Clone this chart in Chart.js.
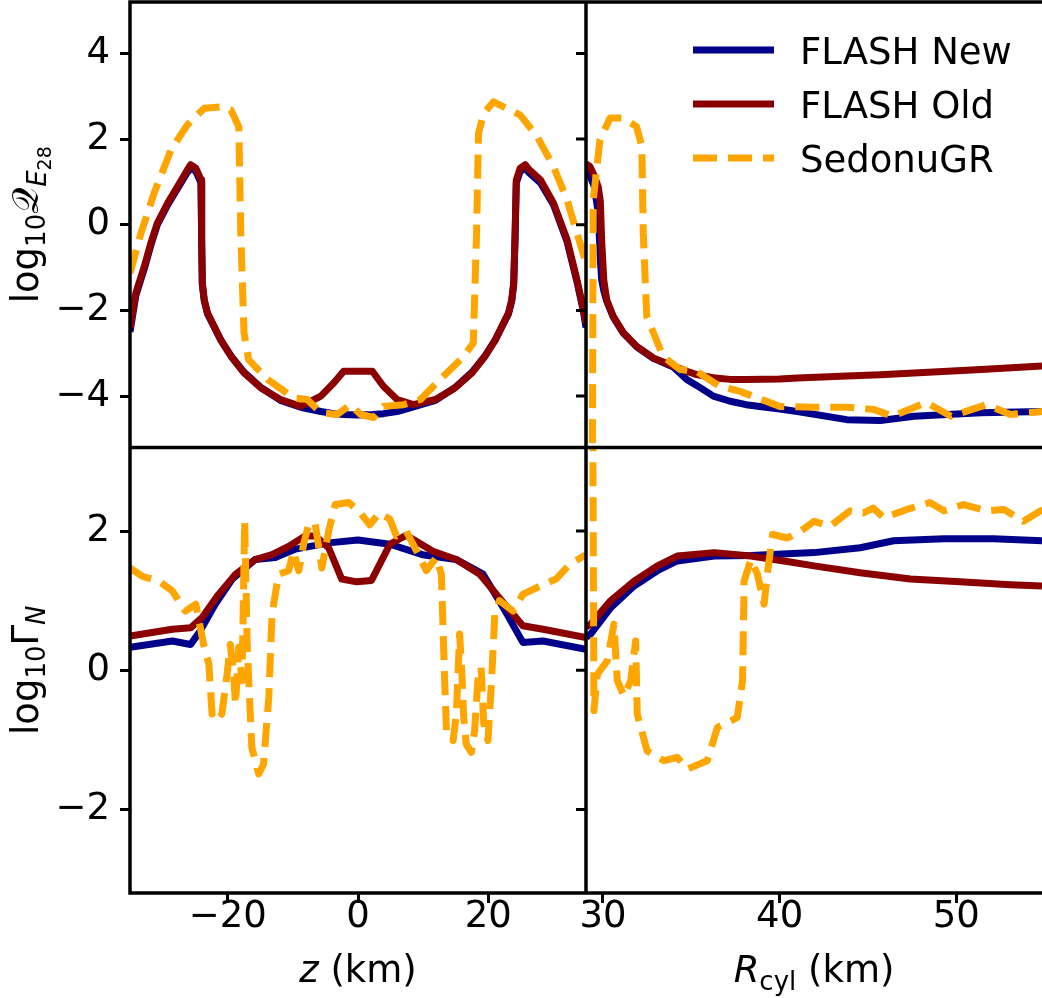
<!DOCTYPE html>
<html>
<head>
<meta charset="utf-8">
<title>FLASH vs SedonuGR</title>
<script src="https://cdn.jsdelivr.net/npm/chart.js@4.4.1/dist/chart.umd.min.js"></script>
<style>
  html, body { margin: 0; padding: 0; background: #fff; overflow: hidden; }
  #wrap { position: relative; width: 1042px; height: 998px; }
</style>
</head>
<body>
<div id="wrap"><canvas id="myChart" width="1042" height="998"></canvas></div>
<script>
// ---- data: top row, log10 Q_E28 ----
const zFlashQ = [-35, -34.1, -32.8, -31.8, -30.8, -29.2, -27.7, -26.2, -25.7, -24.9, -24.1, -24.0, -23.9, -23.6, -23.1, -22.1, -21.1, -19.5, -17.5, -14.9, -11.9, -8.8, -5.7, -3.7, -2.2, 0, 2.2, 3.9, 6, 8.5, 11.9, 14.9, 17.5, 19.5, 21.1, 22.1, 23.1, 23.6, 23.9, 24.1, 24.3, 24.9, 25.7, 26.2, 28, 30, 32.1, 33.6, 34.6, 35];
const qNewZ = [-2.5, -1.65, -1.02, -0.48, 0.0, 0.47, 0.85, 1.22, 1.32, 1.25, 0.98, -0.4, -1.4, -1.78, -2.08, -2.38, -2.68, -3.06, -3.44, -3.8, -4.1, -4.26, -4.36, -4.41, -4.43, -4.44, -4.43, -4.41, -4.36, -4.25, -4.1, -3.8, -3.44, -3.06, -2.68, -2.38, -2.08, -1.78, -1.4, -0.4, 0.98, 1.25, 1.32, 1.22, 0.98, 0.47, -0.4, -1.32, -2.02, -2.4];
const qOldZ = [-2.4, -1.59, -0.97, -0.43, 0.04, 0.51, 0.89, 1.28, 1.40, 1.32, 1.05, -0.3, -1.36, -1.75, -2.06, -2.37, -2.68, -3.07, -3.46, -3.81, -4.08, -4.24, -4.0, -3.69, -3.42, -3.42, -3.42, -3.77, -4.08, -4.2, -4.08, -3.81, -3.46, -3.07, -2.68, -2.37, -2.06, -1.75, -1.36, -0.3, 1.05, 1.32, 1.40, 1.3, 1.05, 0.51, -0.35, -1.28, -1.98, -2.3];
const zSedQ = [-35, -33.3, -31.3, -28.7, -26.2, -23.6, -21.1, -19.5, -18.3, -18.0, -17.5, -16.8, -13.9, -9.9, -7.8, -5.7, -3.2, -1.15, 0.4, 2.4, 3.9, 7.0, 9.6, 12.6, 16.2, 17.7, 18.2, 18.5, 19.3, 20.8, 24.9, 27.5, 30, 32.1, 33.6, 35];
const qSedZ = [-1.13, -0.19, 0.74, 1.75, 2.33, 2.72, 2.75, 2.68, 2.29, -0.19, -2.52, -3.15, -3.61, -4.04, -4.08, -4.39, -4.43, -4.2, -4.43, -4.5, -4.24, -4.2, -4.08, -3.61, -3.08, -2.76, -0.19, 2.14, 2.6, 2.87, 2.56, 2.06, 1.36, 0.58, -0.19, -0.89];

const rFlashQ = [29.04, 29.26, 29.5, 29.73, 29.85, 29.93, 30.05, 30.21, 30.58, 31.15, 31.91, 32.85, 33.98, 34.74, 35.3, 36.25, 37.2, 38.1, 40, 41, 43.8, 45.7, 47.6, 51.4, 54.85];
const qNewR = [1.25, 1.15, 0.9, 0.3, -0.8, -1.3, -1.55, -1.78, -2.15, -2.53, -2.85, -3.12, -3.32, -3.61, -3.75, -4.0, -4.12, -4.2, -4.3, -4.36, -4.55, -4.57, -4.47, -4.39, -4.36];
const qOldR = [1.42, 1.36, 1.15, 0.89, 0.55, -0.4, -1.3, -1.75, -2.14, -2.52, -2.84, -3.11, -3.30, -3.42, -3.5, -3.57, -3.61, -3.61, -3.6, -3.58, -3.53, -3.5, -3.46, -3.38, -3.3];
const rSedQ = [29.36, 29.45, 29.83, 30.4, 31.15, 31.9, 32.2, 32.28, 32.48, 33.4, 34.36, 35.3, 36.6, 37.76, 40, 41.9, 43.8, 45.3, 46.4, 48.3, 49.7, 51.7, 53.06, 54.9];
const qSedR = [-10, 0.58, 1.98, 2.49, 2.49, 2.29, 1.83, -0.19, -2.14, -3.07, -3.38, -3.42, -3.77, -3.89, -4.24, -4.26, -4.26, -4.31, -4.47, -4.15, -4.47, -4.2, -4.43, -4.36];

// ---- data: bottom row, log10 Gamma_N ----
const zNewG = [-35, -28.5, -25.7, -24.4, -21.9, -19.3, -15.8, -12.7, -9.6, -4.5, 0, 4.9, 9.9, 15.1, 19.2, 22.3, 25.3, 28.4, 35];
const gNewZ = [0.33, 0.42, 0.37, 0.54, 0.95, 1.31, 1.59, 1.62, 1.74, 1.83, 1.87, 1.81, 1.66, 1.59, 1.38, 0.9, 0.40, 0.42, 0.30];
const zOldG = [-35, -28.5, -25.7, -23.9, -21.4, -18.8, -15.8, -13.2, -10.65, -8.1, -6.6, -4.5, -2.5, -0.2, 2.07, 4.9, 7.4, 11.5, 15.1, 18.7, 21.7, 25.3, 28.4, 35];
const gOldZ = [0.49, 0.59, 0.61, 0.76, 1.09, 1.38, 1.59, 1.66, 1.78, 1.93, 1.93, 1.76, 1.31, 1.27, 1.29, 1.81, 1.94, 1.71, 1.59, 1.38, 1.04, 0.64, 0.59, 0.47];
const zSedG = [-35, -33.1, -30.6, -28.5, -26.5, -24.9, -23.7, -22.9, -22.4, -21.6, -20.9, -20.1, -19.6, -19.1, -18.8, -18.3, -17.8, -17.4, -17.0, -16.3, -15.25, -14.5, -13.7, -13.2, -12.2, -10.65, -9.9, -9.1, -8.35, -7.6, -6.6, -5.55, -4.5, -3.5, -1.45, 0.1, 1.8, 3.3, 4.9, 5.9, 7.4, 9.0, 10.5, 12.0, 12.8, 13.3, 13.6, 14.6, 15.1, 15.6, 16.0, 16.2, 16.6, 17.4, 17.9, 18.4, 18.9, 19.3, 19.95, 20.5, 21.0, 21.7, 23.8, 25.3, 28.4, 30.4, 32.5, 35];
const gSedZ = [1.47, 1.35, 1.28, 1.14, 0.85, 0.95, 0.37, 0.09, -0.63, -0.54, -0.63, -0.06, 0.37, -0.06, -0.49, 0.33, -0.15, 2.14, 0.33, -1.11, -1.49, -1.35, -0.39, 0.80, 1.38, 1.43, 1.71, 1.43, 1.81, 2.09, 2.12, 1.47, 2.0, 2.38, 2.41, 2.29, 2.09, 2.26, 2.17, 1.93, 2.0, 1.71, 1.43, 1.62, 1.38, -0.15, -0.92, -1.01, -0.63, 0.52, -0.15, -0.63, -1.06, -1.18, -0.87, -0.15, 0.04, -0.77, -1.01, -0.15, 0.80, 1.0, 0.85, 1.09, 1.23, 1.31, 1.52, 1.66];

const rNewG = [29.04, 29.3, 30.44, 31.76, 33.08, 34.2, 36.3, 38.37, 41.95, 44.56, 46.45, 49.3, 52.1, 54.85];
const gNewR = [0.47, 0.52, 0.9, 1.21, 1.43, 1.57, 1.64, 1.65, 1.69, 1.76, 1.86, 1.89, 1.89, 1.86];
const rOldG = [29.04, 29.3, 30.44, 31.76, 33.08, 34.2, 36.3, 38.37, 40.25, 41.95, 44.56, 47.4, 50.2, 53.06, 54.85];
const gOldR = [0.62, 0.66, 1.0, 1.28, 1.50, 1.64, 1.69, 1.64, 1.57, 1.50, 1.40, 1.31, 1.27, 1.23, 1.21];
const rSedG = [29.4, 29.49, 29.68, 29.96, 30.24, 30.62, 30.81, 31.19, 31.57, 31.85, 31.94, 32.5, 33.46, 34.2, 34.78, 35.9, 36.48, 37.6, 37.9, 37.99, 38.37, 38.74, 39.12, 39.3, 39.6, 40.44, 41.2, 41.95, 42.86, 43.99, 44.75, 45.3, 45.9, 47.2, 48.5, 49.3, 50.4, 51.7, 52.7, 53.8, 54.9];
const gSedR = [5, -0.58, -0.06, 0.04, 0.13, 0.66, -0.15, -0.37, -0.15, 0.42, -0.63, -1.16, -1.30, -1.25, -1.42, -1.30, -0.82, -0.68, -0.15, 1.28, 1.59, 1.38, 0.95, 1.38, 1.95, 1.90, 2.0, 2.14, 2.07, 2.29, 2.26, 2.33, 2.19, 2.31, 2.41, 2.29, 2.38, 2.29, 2.31, 2.14, 2.31];

// ---- ticks ----
const zTicks = [-20, 0, 20];
const rTicks = [30, 40, 50];
const qTicks = [-4, -2, 0, 2, 4];
const gTicks = [-2, 0, 2];

const NEW_COLOR = '#00008b';
const OLD_COLOR = '#8b0000';
const SED_COLOR = '#ffa500';
const FONT = "'DejaVu Sans', sans-serif";

function series(label, xs, ys, xAxisID, yAxisID) {
    let color = label === 'FLASH New' ? NEW_COLOR : (label === 'FLASH Old' ? OLD_COLOR : SED_COLOR);
    let dashed = label === 'SedonuGR';
    return {
        label: label,
        data: xs.map((x, i) => ({ x: x, y: ys[i] })),
        xAxisID: xAxisID,
        yAxisID: yAxisID,
        borderColor: color,
        borderWidth: 7,
        borderDash: dashed ? [24, 11] : [],
        borderJoinStyle: 'round',
        borderCapStyle: 'butt',
        pointRadius: 0,
        tension: 0,
        fill: false,
        order: dashed ? 0 : (label === 'FLASH Old' ? 1 : 2)
    };
}

function fmt(v) {
    return v < 0 ? '\u2212' + Math.abs(v) : String(v);
}

function axis(pos, stack, weight, min, max, ticks, size) {
    return {
        type: 'linear',
        position: pos,
        stack: stack,
        stackWeight: 1,
        weight: weight,
        min: min,
        max: max,
        afterBuildTicks: s => { s.ticks = ticks.map(v => ({ value: v })); },
        afterFit: s => {
            // fixed axis sizes, no extra room for half labels
            if (pos === 'left') s.width = size; else s.height = size;
            s.paddingTop = 0; s.paddingBottom = 0; s.paddingLeft = 0; s.paddingRight = 0;
        },
        grid: { drawOnChartArea: false, drawTicks: true, tickLength: 10, tickWidth: 3, tickColor: '#000' },
        border: { display: false },
        ticks: {
            font: { family: FONT, size: 37 },
            color: '#000',
            padding: pos === 'left' ? 10 : -8,
            maxRotation: 0,
            autoSkip: false,
            callback: v => fmt(v)
        }
    };
}

// draws a label made of runs with their own size / style / baseline shift
function drawRich(c, runs, x, y, rotate) {
    c.save();
    c.translate(x, y);
    if (rotate) c.rotate(-Math.PI / 2);
    c.textAlign = 'left';
    c.textBaseline = 'alphabetic';
    c.fillStyle = '#000';
    let total = 0;
    runs.forEach(r => {
        r.f = (r.italic ? 'italic ' : '') + (r.size || 37) + 'px ' + (r.family || FONT);
        c.font = r.f;
        r.w = c.measureText(r.t).width;
        total += r.w;
    });
    let cx = -total / 2;
    runs.forEach(r => {
        c.font = r.f;
        c.fillText(r.t, cx, r.dy || 0);
        cx += r.w;
    });
    c.restore();
}

const panelPlugin = {
    id: 'panels',
    beforeDatasetDraw(chart, args) {
        // clip each line to its own panel, like separate subplots
        let ds = chart.data.datasets[args.index];
        let xs = chart.scales[ds.xAxisID];
        let ys = chart.scales[ds.yAxisID];
        let c = chart.ctx;
        c.save();
        c.beginPath();
        c.rect(xs.left, ys.top, xs.right - xs.left, ys.bottom - ys.top);
        c.clip();
    },
    afterDatasetDraw(chart) {
        chart.ctx.restore();
    },
    afterDraw(chart) {
        let c = chart.ctx;
        let s = chart.scales;
        c.save();
        c.strokeStyle = '#000';
        c.lineWidth = 3.5;
        c.setLineDash([]);
        c.beginPath();
        [s.yT.top, s.yT.bottom, s.yB.bottom].forEach(y => { c.moveTo(s.xL.left - 1.75, y); c.lineTo(s.xR.right + 2, y); });
        [s.xL.left, s.xR.left].forEach(x => { c.moveTo(x, s.yT.top - 1.75); c.lineTo(x, s.yB.bottom + 1.75); });
        c.stroke();

        // y tick marks of the right-hand panels
        c.lineWidth = 3;
        c.beginPath();
        [[s.yT, qTicks], [s.yB, gTicks]].forEach(([sc, ticks]) => ticks.forEach(v => {
            let y = sc.getPixelForValue(v);
            c.moveTo(s.xR.left - 10, y);
            c.lineTo(s.xR.left, y);
        }));
        c.stroke();

        // legend
        let seen = [];
        chart.data.datasets.forEach(d => { if (!seen.find(e => e.label === d.label)) seen.push(d); });
        seen.forEach((d, i) => {
            let y = 50 + i * 54;
            c.beginPath();
            c.strokeStyle = d.borderColor;
            c.lineWidth = d.borderWidth;
            c.lineCap = 'butt';
            c.setLineDash(d.borderDash);
            c.moveTo(693, y);
            c.lineTo(774, y);
            c.stroke();
            c.setLineDash([]);
            c.fillStyle = '#000';
            c.font = '37px ' + FONT;
            c.textBaseline = 'alphabetic';
            c.textAlign = 'left';
            c.fillText(d.label, 800, y + 13.5);
        });
        c.restore();

        // axis titles
        let yMidT = (s.yT.top + s.yT.bottom) / 2;
        let yMidB = (s.yB.top + s.yB.bottom) / 2;
        drawRich(c, [
            { t: 'log' }, { t: '10', size: 26, dy: 7 },
            { t: '\u{1D4AC}' }, { t: 'E', size: 26, italic: true, dy: 8 }, { t: '28', size: 19, dy: 13 }
        ], 38, yMidT, true);
        drawRich(c, [
            { t: 'log' }, { t: '10', size: 26, dy: 7 },
            { t: '\u0393' }, { t: 'N', size: 26, italic: true, dy: 7 }
        ], 38, yMidB, true);
        drawRich(c, [{ t: 'z', italic: true }, { t: ' (km)' }], (s.xL.left + s.xL.right) / 2, 982, false);
        drawRich(c, [{ t: 'R', italic: true }, { t: 'cyl', size: 26, dy: 8 }, { t: ' (km)' }], (s.xR.left + s.xR.right) / 2, 982, false);
    }
};

let datasets = [
    series('FLASH New', zFlashQ, qNewZ, 'xL', 'yT'),
    series('FLASH Old', zFlashQ, qOldZ, 'xL', 'yT'),
    series('SedonuGR', zSedQ, qSedZ, 'xL', 'yT'),
    series('FLASH New', rFlashQ, qNewR, 'xR', 'yT'),
    series('FLASH Old', rFlashQ, qOldR, 'xR', 'yT'),
    series('SedonuGR', rSedQ, qSedR, 'xR', 'yT'),
    series('FLASH New', zNewG, gNewZ, 'xL', 'yB'),
    series('FLASH Old', zOldG, gOldZ, 'xL', 'yB'),
    series('SedonuGR', zSedG, gSedZ, 'xL', 'yB'),
    series('FLASH New', rNewG, gNewR, 'xR', 'yB'),
    series('FLASH Old', rOldG, gOldR, 'xR', 'yB'),
    series('SedonuGR', rSedG, gSedR, 'xR', 'yB')
];

let ctx = document.getElementById('myChart').getContext('2d');
let chart = new Chart(ctx, {
    type: 'line',
    data: { datasets: datasets },
    options: {
        responsive: false,
        animation: false,
        events: [],
        layout: { padding: { top: 2, right: 0, bottom: 0, left: 0 } },
        plugins: {
            legend: { display: false },
            tooltip: { enabled: false }
        },
        scales: {
            xL: axis('bottom', 'x', 1, -35, 35, zTicks, 105),
            xR: axis('bottom', 'x', 2, 29.04, 54.85, rTicks, 105),
            yT: axis('left', 'y', 2, -5.2, 5.2, qTicks, 130),
            yB: axis('left', 'y', 1, -3.2, 3.2, gTicks, 130)
        }
    },
    plugins: [panelPlugin]
});
</script>
</body>
</html>
